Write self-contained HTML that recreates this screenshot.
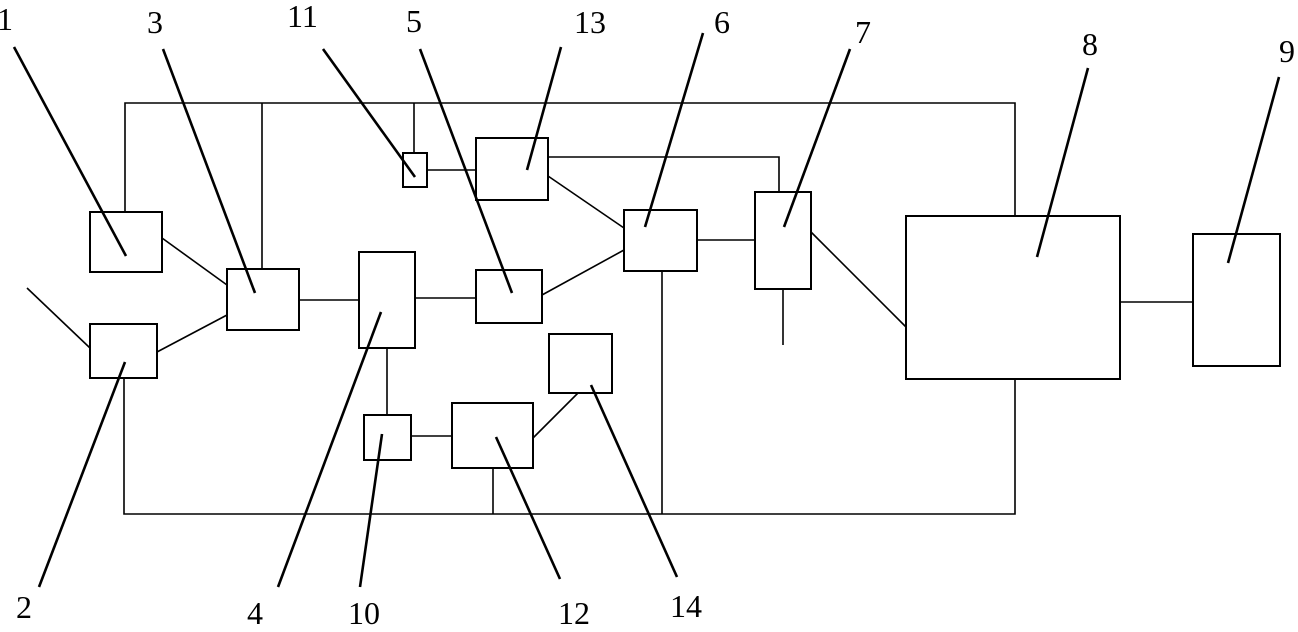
<!DOCTYPE html>
<html><head><style>html,body{margin:0;padding:0;background:#fff}svg{display:block}</style></head><body>
<svg width="1298" height="632" viewBox="0 0 1298 632" xmlns="http://www.w3.org/2000/svg">
<g fill="none" stroke="#000" stroke-width="2">
<rect x="90" y="212" width="72" height="60"/>
<rect x="90" y="324" width="67" height="54"/>
<rect x="227" y="269" width="72" height="61"/>
<rect x="359" y="252" width="56" height="96"/>
<rect x="476" y="270" width="66" height="53"/>
<rect x="624" y="210" width="73" height="61"/>
<rect x="755" y="192" width="56" height="97"/>
<rect x="906" y="216" width="214" height="163"/>
<rect x="1193" y="234" width="87" height="132"/>
<rect x="364" y="415" width="47" height="45"/>
<rect x="403" y="153" width="24" height="34"/>
<rect x="452" y="403" width="81" height="65"/>
<rect x="476" y="138" width="72" height="62"/>
<rect x="549" y="334" width="63" height="59"/>
</g>
<g fill="none" stroke="#000" stroke-width="1.6">
<polyline points="125,212 125,103 1015,103 1015,216"/>
<line x1="262" y1="103" x2="262" y2="269"/>
<line x1="414" y1="103" x2="414" y2="153"/>
<polyline points="124,378 124,514 1015,514 1015,379"/>
<line x1="493" y1="468" x2="493" y2="514"/>
<line x1="662" y1="271" x2="662" y2="514"/>
<line x1="427" y1="170" x2="476" y2="170"/>
<polyline points="548,157 779,157 779,192"/>
<line x1="548" y1="176" x2="624" y2="228"/>
<line x1="542" y1="295" x2="624" y2="250"/>
<line x1="697" y1="240" x2="755" y2="240"/>
<line x1="783" y1="289" x2="783" y2="345"/>
<line x1="811" y1="232" x2="906" y2="327"/>
<line x1="1120" y1="302" x2="1193" y2="302"/>
<line x1="162" y1="238" x2="227" y2="285"/>
<line x1="157" y1="352" x2="227" y2="315"/>
<line x1="27" y1="288" x2="90" y2="348"/>
<line x1="299" y1="300" x2="359" y2="300"/>
<line x1="415" y1="298" x2="476" y2="298"/>
<line x1="387" y1="348" x2="387" y2="415"/>
<line x1="411" y1="436" x2="452" y2="436"/>
<line x1="533" y1="438" x2="578" y2="393"/>
</g>
<g stroke="#000" stroke-width="2.6">
<line x1="14" y1="47" x2="126" y2="256"/>
<line x1="163" y1="49" x2="255" y2="293"/>
<line x1="323" y1="49" x2="415" y2="177"/>
<line x1="420" y1="49" x2="512" y2="293"/>
<line x1="561" y1="47" x2="527" y2="170"/>
<line x1="703" y1="33" x2="645" y2="227"/>
<line x1="850" y1="49" x2="784" y2="227"/>
<line x1="1088" y1="68" x2="1037" y2="257"/>
<line x1="1279" y1="77" x2="1228" y2="263"/>
<line x1="39" y1="587" x2="125" y2="362"/>
<line x1="278" y1="587" x2="381" y2="312"/>
<line x1="360" y1="587" x2="382" y2="434"/>
<line x1="560" y1="579" x2="496" y2="437"/>
<line x1="677" y1="577" x2="591" y2="385"/>
</g>
<g font-family="Liberation Serif, serif" font-size="32" fill="#000">
<text x="-3" y="30">1</text>
<text x="147" y="33">3</text>
<text x="287" y="27">11</text>
<text x="406" y="32">5</text>
<text x="574" y="33">13</text>
<text x="714" y="33">6</text>
<text x="855" y="43">7</text>
<text x="1082" y="55">8</text>
<text x="1279" y="62">9</text>
<text x="16" y="618">2</text>
<text x="247" y="624">4</text>
<text x="348" y="624">10</text>
<text x="558" y="624">12</text>
<text x="670" y="617">14</text>
</g>
</svg>
</body></html>
